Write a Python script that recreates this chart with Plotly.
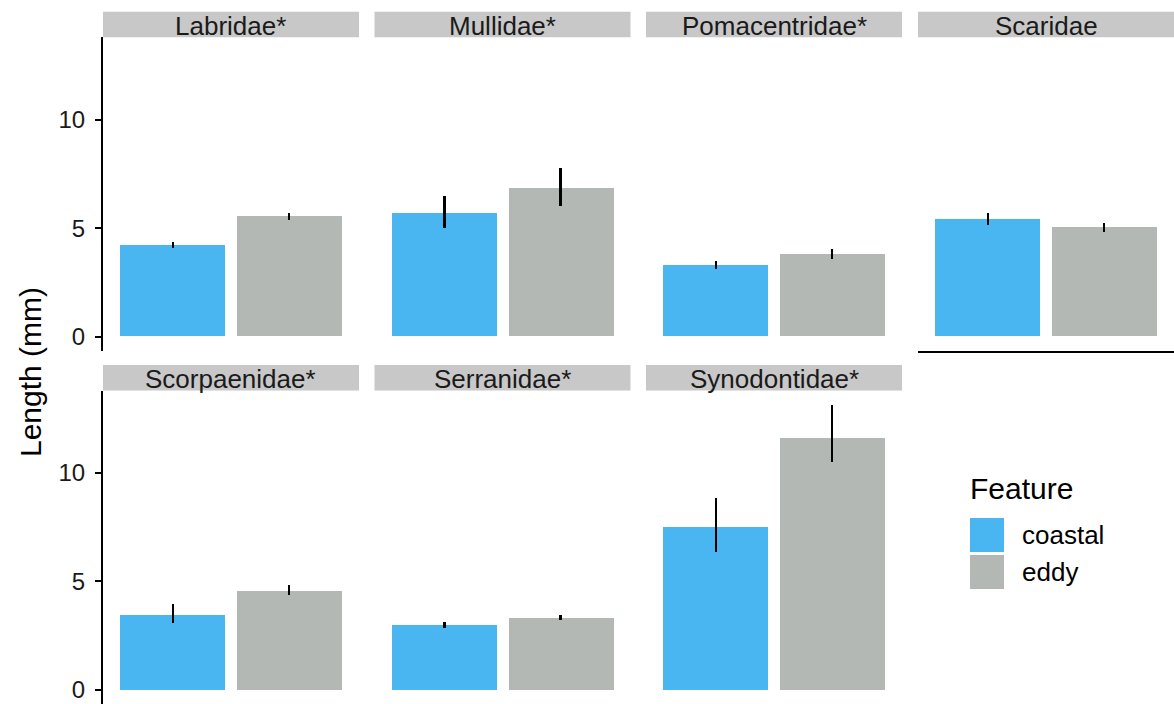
import plotly.graph_objects as go

# Mean larval length per family and habitat, with lower / upper error limits (mm)
families = ["Labridae*", "Mullidae*", "Pomacentridae*", "Scaridae",
            "Scorpaenidae*", "Serranidae*", "Synodontidae*"]
features = ["coastal", "eddy"]

coastal_mean = [4.21, 5.67, 3.27, 5.42, 3.47, 3.00, 7.54]
coastal_low = [4.08, 4.99, 3.10, 5.16, 3.09, 2.86, 6.37]
coastal_high = [4.38, 6.50, 3.50, 5.71, 3.94, 3.13, 8.86]

eddy_mean = [5.54, 6.83, 3.81, 5.02, 4.56, 3.33, 11.64]
eddy_low = [5.37, 6.04, 3.59, 4.82, 4.35, 3.21, 10.51]
eddy_high = [5.68, 7.77, 4.04, 5.24, 4.82, 3.46, 13.13]

y_ticks = [0, 5, 10]

COLORS = {"coastal": "#49B6F2", "eddy": "#B4B8B4"}
FONT = "Liberation Sans, Arial, Helvetica, sans-serif"
W, H = 1174, 704


def fx(px):
    return px / W


def fy(py):
    return 1 - py / H


# facet geometry (pixels)
panel_left = [103, 374.5, 646, 918]
panel_w = 256
row_top = [37.3, 390.5]
panel_h = 313.7
strip_h = 25.5

ymax = max(coastal_high + eddy_high)
y_lo, y_hi = -0.05 * ymax, 1.05 * ymax
units_per_px = (y_hi - y_lo) / panel_h

fig = go.Figure()
layout = {}
shapes = []
annotations = []

for i, fam in enumerate(families):
    row, col = divmod(i, 4)
    n = i + 1
    xa = "x" if n == 1 else f"x{n}"
    ya = "y" if n == 1 else f"y{n}"
    means = {"coastal": coastal_mean[i], "eddy": eddy_mean[i]}
    lows = {"coastal": coastal_low[i], "eddy": eddy_low[i]}
    highs = {"coastal": coastal_high[i], "eddy": eddy_high[i]}
    for feat in features:
        fig.add_trace(go.Bar(
            x=[feat], y=[means[feat]], width=0.9,
            marker=dict(color=COLORS[feat], line=dict(width=0)),
            error_y=dict(type="data", symmetric=False,
                         array=[highs[feat] - means[feat]],
                         arrayminus=[means[feat] - lows[feat]],
                         color="black", thickness=2.6, width=0),
            xaxis=xa, yaxis=ya, showlegend=False, name=feat,
        ))

    x0 = panel_left[col]
    x1 = min(x0 + panel_w, W)
    top = row_top[row]
    bottom = min(top + panel_h, H)
    rng_lo = y_hi - (bottom - top) * units_per_px

    layout[f"xaxis{'' if n == 1 else n}"] = dict(
        domain=[fx(x0), fx(x1)], anchor=ya, automargin=False,
        type="category", categoryorder="array", categoryarray=features,
        range=[-0.6, 1.6], showticklabels=False, ticks="",
        showgrid=False, zeroline=False, fixedrange=True,
        showline=(i == 3), linecolor="black", linewidth=2,
    )
    layout[f"yaxis{'' if n == 1 else n}"] = dict(
        domain=[fy(bottom), fy(top)], anchor=xa, automargin=False,
        range=[rng_lo, y_hi], tickvals=y_ticks,
        showticklabels=(col == 0), ticks="outside" if col == 0 else "",
        ticklen=6, tickwidth=2, tickcolor="black",
        showline=(col == 0), linecolor="black", linewidth=2,
        showgrid=False, zeroline=False, fixedrange=True,
        tickfont=dict(family=FONT, size=24, color="#1A1A1A"),
        ticklabelstandoff=5, ticklabeloverflow="allow",
    )

    # facet strip
    s_bot = top
    s_top = top - strip_h
    shapes.append(dict(type="rect", xref="paper", yref="paper",
                       x0=fx(x0), x1=fx(x1), y0=fy(s_bot), y1=fy(s_top),
                       fillcolor="#C8C8C8", line=dict(width=0), layer="below"))
    annotations.append(dict(text=fam, xref="paper", yref="paper",
                            x=fx(x0 + panel_w / 2), y=fy((s_top + s_bot) / 2 + 1),
                            xanchor="center", yanchor="middle", showarrow=False,
                            font=dict(family=FONT, size=26, color="#1A1A1A")))

# y-axis title
annotations.append(dict(text="Length (mm)", xref="paper", yref="paper",
                        x=fx(30), y=fy(372), textangle=-90,
                        xanchor="center", yanchor="middle", showarrow=False,
                        font=dict(family=FONT, size=30, color="black")))

# legend
annotations.append(dict(text="Feature", xref="paper", yref="paper",
                        x=fx(968), y=fy(488), xanchor="left", yanchor="middle",
                        showarrow=False,
                        font=dict(family=FONT, size=30, color="black")))
key_top = [518, 555]
for feat, kt in zip(features, key_top):
    shapes.append(dict(type="rect", xref="paper", yref="paper",
                       x0=fx(970), x1=fx(1004), y0=fy(kt + 34), y1=fy(kt),
                       fillcolor=COLORS[feat], line=dict(width=0)))
    annotations.append(dict(text=feat, xref="paper", yref="paper",
                            x=fx(1020), y=fy(kt + 17), xanchor="left",
                            yanchor="middle", showarrow=False,
                            font=dict(family=FONT, size=26, color="black")))

fig.update_layout(
    width=W, height=H,
    margin=dict(l=0, r=0, t=0, b=0),
    paper_bgcolor="white", plot_bgcolor="white",
    bargap=0, showlegend=False,
    shapes=shapes, annotations=annotations,
    **layout,
)

fig.write_html("out.html", config={"displayModeBar": False})
